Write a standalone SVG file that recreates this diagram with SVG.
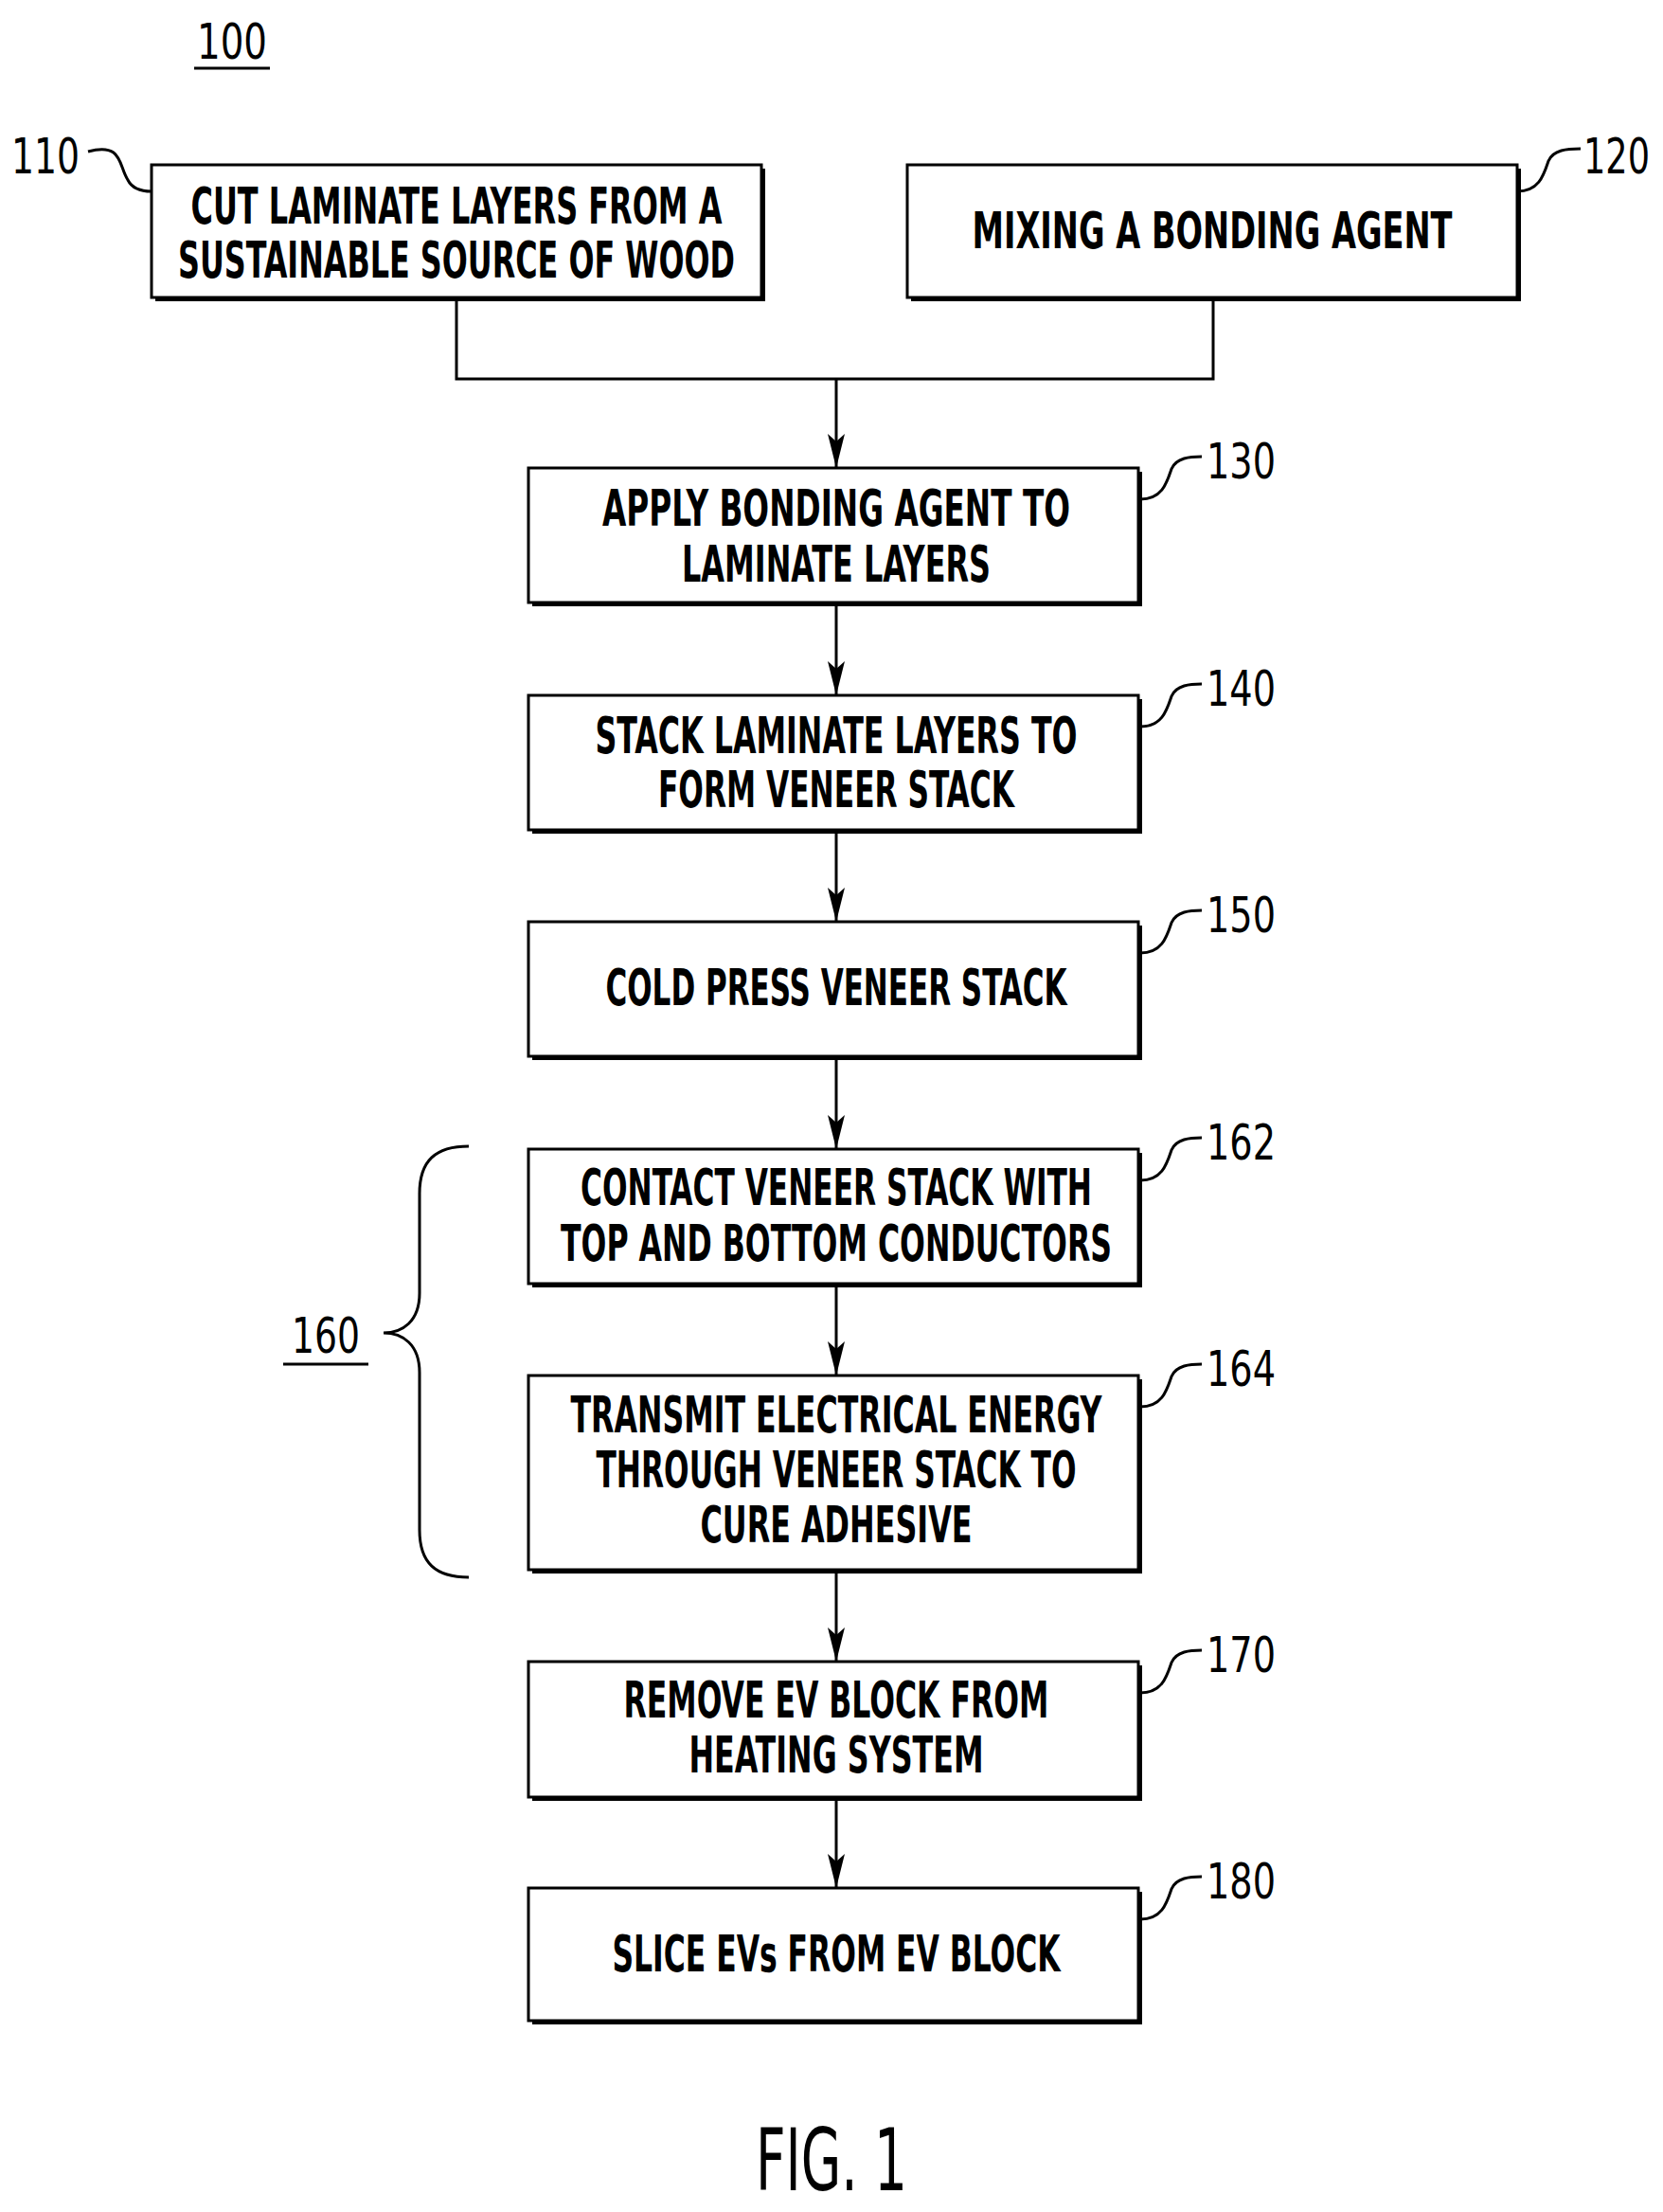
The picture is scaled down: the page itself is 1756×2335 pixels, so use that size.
<svg xmlns="http://www.w3.org/2000/svg" width="1756" height="2335" viewBox="0 0 1756 2335">
<style>
.b{fill:#fff;stroke:#000;stroke-width:3}
.sh{fill:none;stroke:#000;stroke-width:4}
.t{font-family:"DejaVu Sans Condensed","DejaVu Sans",sans-serif;font-size:54px;font-weight:bold;text-anchor:middle;fill:#000}
.l{font-family:"DejaVu Sans Condensed","DejaVu Sans",sans-serif;font-size:52px;fill:#000}
.c{fill:none;stroke:#000;stroke-width:3}
</style>
<defs><marker id="a" viewBox="0 0 36 18" refX="36" refY="9" markerWidth="36" markerHeight="18" orient="auto" markerUnits="userSpaceOnUse"><path d="M0,0 L36,9 L0,18 L8,9 Z" fill="#000"/></marker></defs>
<rect width="1756" height="2335" fill="#fff"/>
<text class="l" x="208" y="62" textLength="74" lengthAdjust="spacingAndGlyphs">100</text>
<line x1="205" y1="72" x2="285" y2="72" stroke="#000" stroke-width="3"/>
<g id="connectors">
<path class="c" d="M482,314 V400 H1281 V314"/>
<line class="c" x1="883" y1="400" x2="883" y2="494" marker-end="url(#a)"/>
<line class="c" x1="883" y1="636" x2="883" y2="734" marker-end="url(#a)"/>
<line class="c" x1="883" y1="876" x2="883" y2="973" marker-end="url(#a)"/>
<line class="c" x1="883" y1="1115" x2="883" y2="1213" marker-end="url(#a)"/>
<line class="c" x1="883" y1="1355" x2="883" y2="1452" marker-end="url(#a)"/>
<line class="c" x1="883" y1="1657" x2="883" y2="1754" marker-end="url(#a)"/>
<line class="c" x1="883" y1="1897" x2="883" y2="1993" marker-end="url(#a)"/>
</g>
<g id="n110"><rect class="b" x="160" y="174" width="644" height="140"/><path class="sh" d="M164,316 H806 V178"/>
<text class="t" x="482" y="236" textLength="561" lengthAdjust="spacingAndGlyphs">CUT LAMINATE LAYERS FROM A</text>
<text class="t" x="482" y="293" textLength="588" lengthAdjust="spacingAndGlyphs">SUSTAINABLE SOURCE OF WOOD</text>
<text class="l" x="12" y="183" textLength="72" lengthAdjust="spacingAndGlyphs">110</text>
<path class="c" d="M93,160 C130,150 125,175 135,190 C140,200 150,202 160,202"/></g>
<g id="n120"><rect class="b" x="958" y="174" width="644" height="140"/><path class="sh" d="M962,316 H1604 V178"/>
<text class="t" x="1280" y="262" textLength="507" lengthAdjust="spacingAndGlyphs">MIXING A BONDING AGENT</text>
<text class="l" x="1672" y="183" textLength="70" lengthAdjust="spacingAndGlyphs">120</text>
<path class="c" d="M1602,202 C1625,202 1630,185 1635,170 C1640,158 1655,157 1669,157"/></g>
<g id="n130"><rect class="b" x="558" y="494" width="644" height="142"/><path class="sh" d="M562,638 H1204 V498"/>
<text class="t" x="883" y="555" textLength="494" lengthAdjust="spacingAndGlyphs">APPLY BONDING AGENT TO</text>
<text class="t" x="883" y="614" textLength="326" lengthAdjust="spacingAndGlyphs">LAMINATE LAYERS</text>
<text class="l" x="1274" y="505" textLength="73" lengthAdjust="spacingAndGlyphs">130</text>
<path class="c" d="M1204,527 C1227,527 1232,510 1237,495 C1242,483 1257,482 1269,482"/></g>
<g id="n140"><rect class="b" x="558" y="734" width="644" height="142"/><path class="sh" d="M562,878 H1204 V738"/>
<text class="t" x="883" y="795" textLength="509" lengthAdjust="spacingAndGlyphs">STACK LAMINATE LAYERS TO</text>
<text class="t" x="883" y="852" textLength="376" lengthAdjust="spacingAndGlyphs">FORM VENEER STACK</text>
<text class="l" x="1274" y="745" textLength="73" lengthAdjust="spacingAndGlyphs">140</text>
<path class="c" d="M1204,767 C1227,767 1232,750 1237,735 C1242,723 1257,722 1269,722"/></g>
<g id="n150"><rect class="b" x="558" y="973" width="644" height="142"/><path class="sh" d="M562,1117 H1204 V977"/>
<text class="t" x="883" y="1061" textLength="487" lengthAdjust="spacingAndGlyphs">COLD PRESS VENEER STACK</text>
<text class="l" x="1274" y="984" textLength="73" lengthAdjust="spacingAndGlyphs">150</text>
<path class="c" d="M1204,1006 C1227,1006 1232,989 1237,974 C1242,962 1257,961 1269,961"/></g>
<g id="n162"><rect class="b" x="558" y="1213" width="644" height="142"/><path class="sh" d="M562,1357 H1204 V1217"/>
<text class="t" x="883" y="1272" textLength="540" lengthAdjust="spacingAndGlyphs">CONTACT VENEER STACK WITH</text>
<text class="t" x="883" y="1331" textLength="582" lengthAdjust="spacingAndGlyphs">TOP AND BOTTOM CONDUCTORS</text>
<text class="l" x="1274" y="1224" textLength="73" lengthAdjust="spacingAndGlyphs">162</text>
<path class="c" d="M1204,1246 C1227,1246 1232,1229 1237,1214 C1242,1202 1257,1201 1269,1201"/></g>
<g id="n164"><rect class="b" x="558" y="1452" width="644" height="205"/><path class="sh" d="M562,1659 H1204 V1456"/>
<text class="t" x="883" y="1512" textLength="561" lengthAdjust="spacingAndGlyphs">TRANSMIT ELECTRICAL ENERGY</text>
<text class="t" x="883" y="1570" textLength="507" lengthAdjust="spacingAndGlyphs">THROUGH VENEER STACK TO</text>
<text class="t" x="883" y="1628" textLength="287" lengthAdjust="spacingAndGlyphs">CURE ADHESIVE</text>
<text class="l" x="1274" y="1463" textLength="73" lengthAdjust="spacingAndGlyphs">164</text>
<path class="c" d="M1204,1485 C1227,1485 1232,1468 1237,1453 C1242,1441 1257,1440 1269,1440"/></g>
<g id="n160">
<text class="l" x="308" y="1428" textLength="72" lengthAdjust="spacingAndGlyphs">160</text>
<line x1="299" y1="1440" x2="389" y2="1440" stroke="#000" stroke-width="3"/>
<path class="c" d="M495,1210 C460,1210 443,1225 443,1260 V1365 C443,1395 425,1407 405,1407 C425,1407 443,1419 443,1449 V1615 C443,1650 460,1665 495,1665"/>
</g>
<g id="n170"><rect class="b" x="558" y="1754" width="644" height="143"/><path class="sh" d="M562,1899 H1204 V1758"/>
<text class="t" x="883" y="1813" textLength="449" lengthAdjust="spacingAndGlyphs">REMOVE EV BLOCK FROM</text>
<text class="t" x="883" y="1871" textLength="311" lengthAdjust="spacingAndGlyphs">HEATING SYSTEM</text>
<text class="l" x="1274" y="1765" textLength="73" lengthAdjust="spacingAndGlyphs">170</text>
<path class="c" d="M1204,1787 C1227,1787 1232,1770 1237,1755 C1242,1743 1257,1742 1269,1742"/></g>
<g id="n180"><rect class="b" x="558" y="1993" width="644" height="140"/><path class="sh" d="M562,2135 H1204 V1997"/>
<text class="t" x="883" y="2081" textLength="473" lengthAdjust="spacingAndGlyphs">SLICE EVs FROM EV BLOCK</text>
<text class="l" x="1274" y="2004" textLength="73" lengthAdjust="spacingAndGlyphs">180</text>
<path class="c" d="M1204,2026 C1227,2026 1232,2009 1237,1994 C1242,1982 1257,1981 1269,1981"/></g>
<text x="798" y="2312" font-family="DejaVu Sans Condensed,DejaVu Sans,sans-serif" font-size="90" textLength="160" lengthAdjust="spacingAndGlyphs">FIG. 1</text>
</svg>
